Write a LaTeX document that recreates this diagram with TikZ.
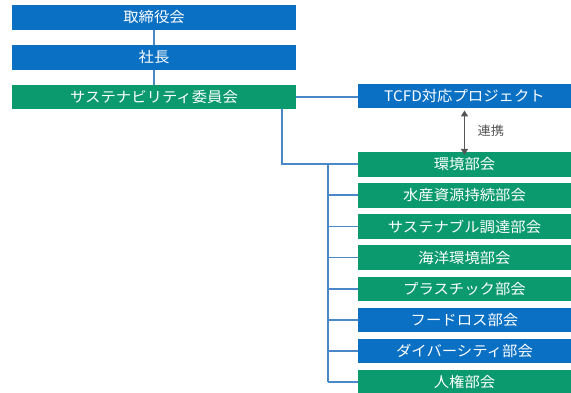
\documentclass[tikz,border=0pt]{standalone}
\usepackage{fontspec}
\setmainfont{Noto Sans CJK JP}
\usepackage{graphicx}
\usetikzlibrary{arrows.meta}
\definecolor{cblue}{HTML}{0A70C4}
\definecolor{cgreen}{HTML}{0B9A6D}
\definecolor{cline}{HTML}{4A88C8}
\definecolor{carrow}{HTML}{555555}
\newcommand{\wtxt}[1]{\scalebox{1.06}[1]{#1}}
\tikzset{
  box/.style={rectangle, inner sep=0pt, text=white, font=\fontsize{14.5}{15}\selectfont, minimum height=24.5pt},
  lbox/.style={box, minimum width=284pt},
  rbox/.style={box, minimum width=213pt},
  bluebox/.style={fill=cblue},
  greenbox/.style={fill=cgreen},
  conn/.style={draw=cline, line width=1.8pt},
}
\begin{document}
\begin{tikzpicture}[x=1pt,y=-1pt]
\useasboundingbox (0,0) rectangle (571,393);
\fill[white] (0,0) rectangle (571,393);
% left column
\node[lbox,bluebox] (board) at (154,17.5) {\wtxt{取締役会}};
\node[lbox,bluebox] (pres) at (154,57.5) {\wtxt{社長}};
\node[lbox,greenbox] (comm) at (154,97) {\wtxt{サステナビリティ委員会}};
% right column
\node[rbox,bluebox] (tcfd) at (464.5,96) {\wtxt{TCFD対応プロジェクト}};
\node[rbox,greenbox] (b1) at (464.5,164.3) {\wtxt{環境部会}};
\node[rbox,greenbox] (b2) at (464.5,195.4) {\wtxt{水産資源持続部会}};
\node[rbox,greenbox] (b3) at (464.5,226.5) {\wtxt{サステナブル調達部会}};
\node[rbox,greenbox] (b4) at (464.5,257.6) {\wtxt{海洋環境部会}};
\node[rbox,greenbox] (b5) at (464.5,288.8) {\wtxt{プラスチック部会}};
\node[rbox,bluebox] (b6) at (464.5,319.9) {\wtxt{フードロス部会}};
\node[rbox,bluebox] (b7) at (464.5,351.0) {\wtxt{ダイバーシティ部会}};
\node[rbox,greenbox] (b8) at (464.5,382.1) {\wtxt{人権部会}};
% connectors
\coordinate (v1) at (282,0);
\coordinate (v2) at (328,0);
\draw[conn] (board) -- (pres);
\draw[conn] (pres) -- (comm);
\draw[conn] (comm.east) -- (comm.east -| tcfd.west);
\draw[conn] (comm.south -| v1) |- (b1.west);
\draw[conn] (b1.west -| v2) -- (b8.west -| v2);
\foreach \i in {2,...,8}{
  \draw[conn] (b\i.west -| v2) -- (b\i.west);
}
% link arrow
\draw[draw=carrow, line width=1.6pt, {Triangle[length=6pt,width=7pt]}-{Triangle[length=6pt,width=7pt]}] (tcfd.south) ++(0,2) -- ([yshift=-3pt]b1.north);
\node[text=carrow, font=\fontsize{12.5}{13}\selectfont, anchor=west] (lk) at (474,131) {\wtxt{連携}};
\end{tikzpicture}
\end{document}
